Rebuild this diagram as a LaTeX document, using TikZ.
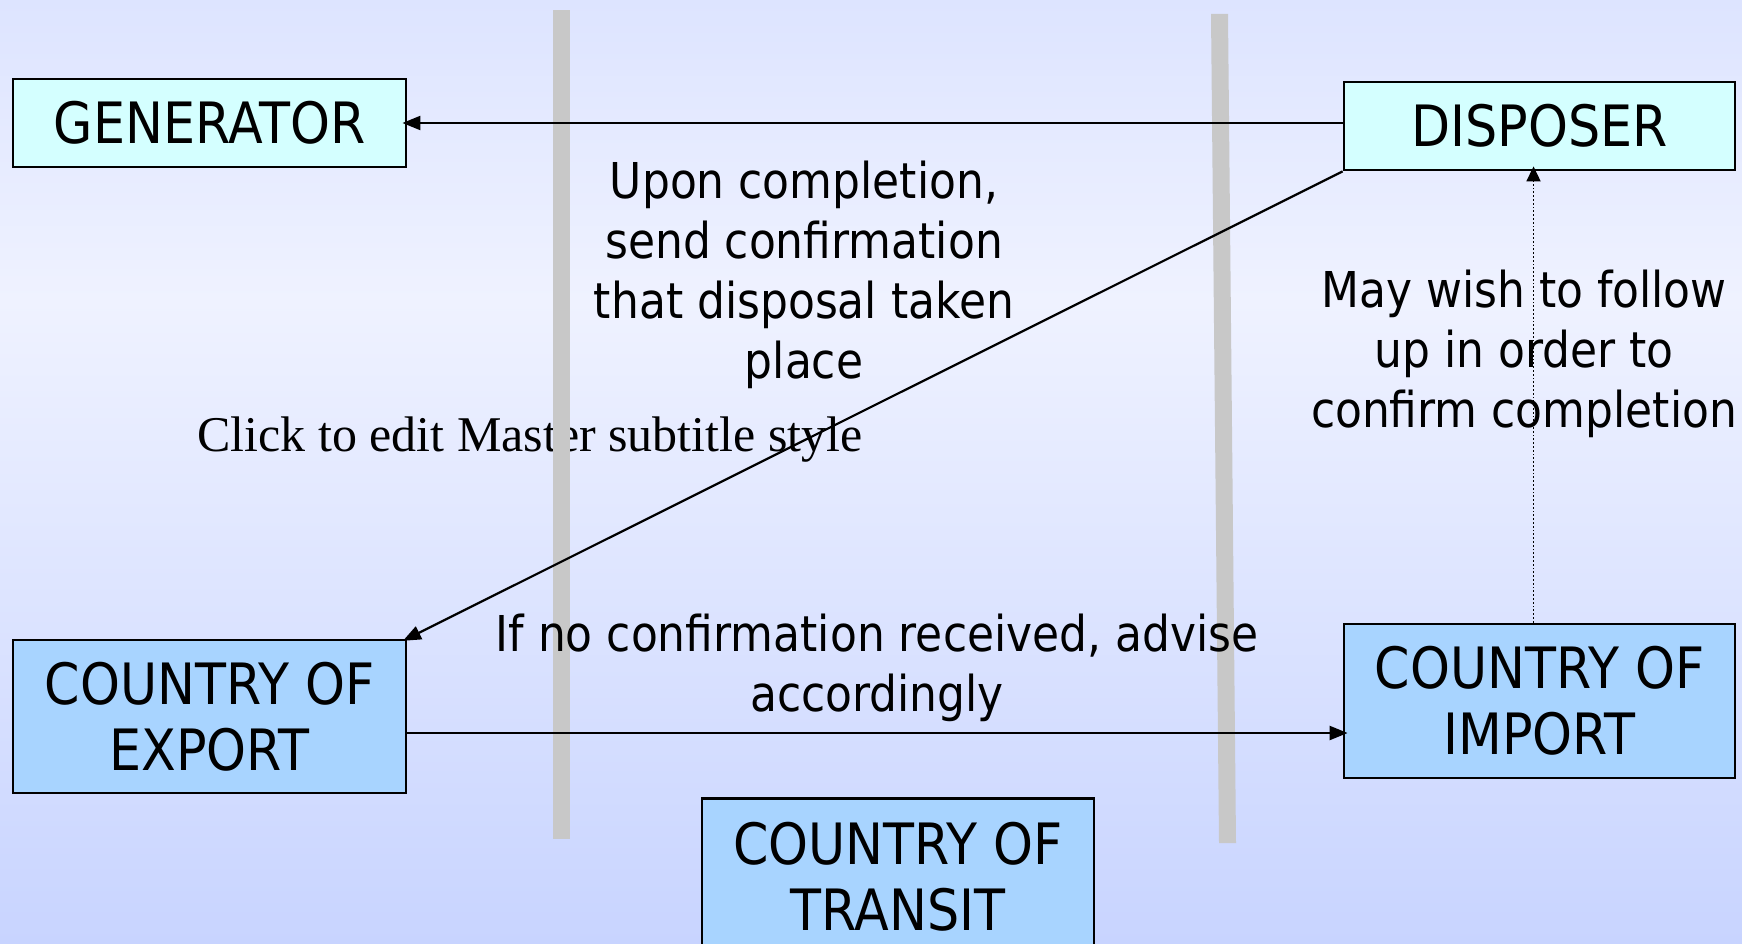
\documentclass[tikz,border=0pt]{standalone}
\usepackage{fontspec}
\setmainfont{Liberation Serif}
\newfontfamily\tah[FakeStretch=0.89]{DejaVu Sans}
\usetikzlibrary{arrows.meta}
\definecolor{bgtop}{RGB}{221,228,255}
\definecolor{bgmid}{RGB}{239,242,255}
\definecolor{bgbot}{RGB}{200,212,255}
\definecolor{cyanfill}{RGB}{212,255,255}
\definecolor{bluefill}{RGB}{168,212,255}
\definecolor{bargray}{RGB}{200,200,200}
\begin{document}
\begin{tikzpicture}[x=1pt,y=-1pt,
  box/.style={draw=black, line width=2.8pt, inner sep=0pt, align=center, font=\tah\fontsize{57}{66}\selectfont},
  lbl/.style={align=center, inner sep=0pt, font=\tah\fontsize{49.4}{60}\selectfont},
  arr/.style={line width=2.2pt, shorten >=-5pt, -{Triangle[length=18pt,width=14pt]}},
  bar/.style={fill=bargray},
]
\useasboundingbox (0,0) rectangle (1742,944);
\clip (0,0) rectangle (1742,944);
\shade[top color=bgtop, bottom color=bgmid] (0,0) rectangle (1742,301);
\shade[top color=bgmid, bottom color=bgbot] (0,300) rectangle (1742,944);

\node[font=\fontsize{50}{60}\selectfont, inner sep=0pt] (click) at (530,440) {Click to edit Master subtitle style};

\fill[bar] (553,10) rectangle (570,839);
\fill[bar] (1211,14) -- (1228,14) -- (1236,843) -- (1219,843) -- cycle;

\node[box, fill=cyanfill, minimum width=393pt, minimum height=88pt] (gen) at (209.5,123) {GENERATOR};
\node[box, fill=cyanfill, minimum width=391pt, minimum height=88pt] (disp) at (1539.5,126) {DISPOSER};
\node[box, fill=bluefill, minimum width=393pt, minimum height=153pt] (exp) at (209.5,716.5) {COUNTRY OF\\EXPORT};
\node[box, fill=bluefill, minimum width=391pt, minimum height=154pt] (imp) at (1539.5,701) {COUNTRY OF\\IMPORT};
\node[box, fill=bluefill, minimum width=392pt, minimum height=156pt, anchor=north] (tra) at (898,797) {COUNTRY OF\\TRANSIT};

\draw[arr] (gen.east -| disp.west) -- (gen.east);
\draw[arr] (disp.south west) -- (exp.north east);
\draw[arr] ([yshift=-16.5pt]exp.east) -- ([yshift=-16.5pt]exp.east -| imp.west);
\draw[line width=1.8pt, dotted, shorten >=-5pt, -{Triangle[length=15pt,width=14pt]}] ([xshift=-6pt]imp.north) -- ([xshift=-6pt]imp.north |- disp.south);

\node[lbl] (upon) at (804,275) {Upon completion,\\send confirmation\\that disposal taken\\place};
\node[lbl] (may) at (1524,354) {May wish to follow\\up in order to\\confirm completion};
\node[lbl] (ifno) at (877,668) {If no confirmation received, advise\\accordingly};
\end{tikzpicture}
\end{document}
